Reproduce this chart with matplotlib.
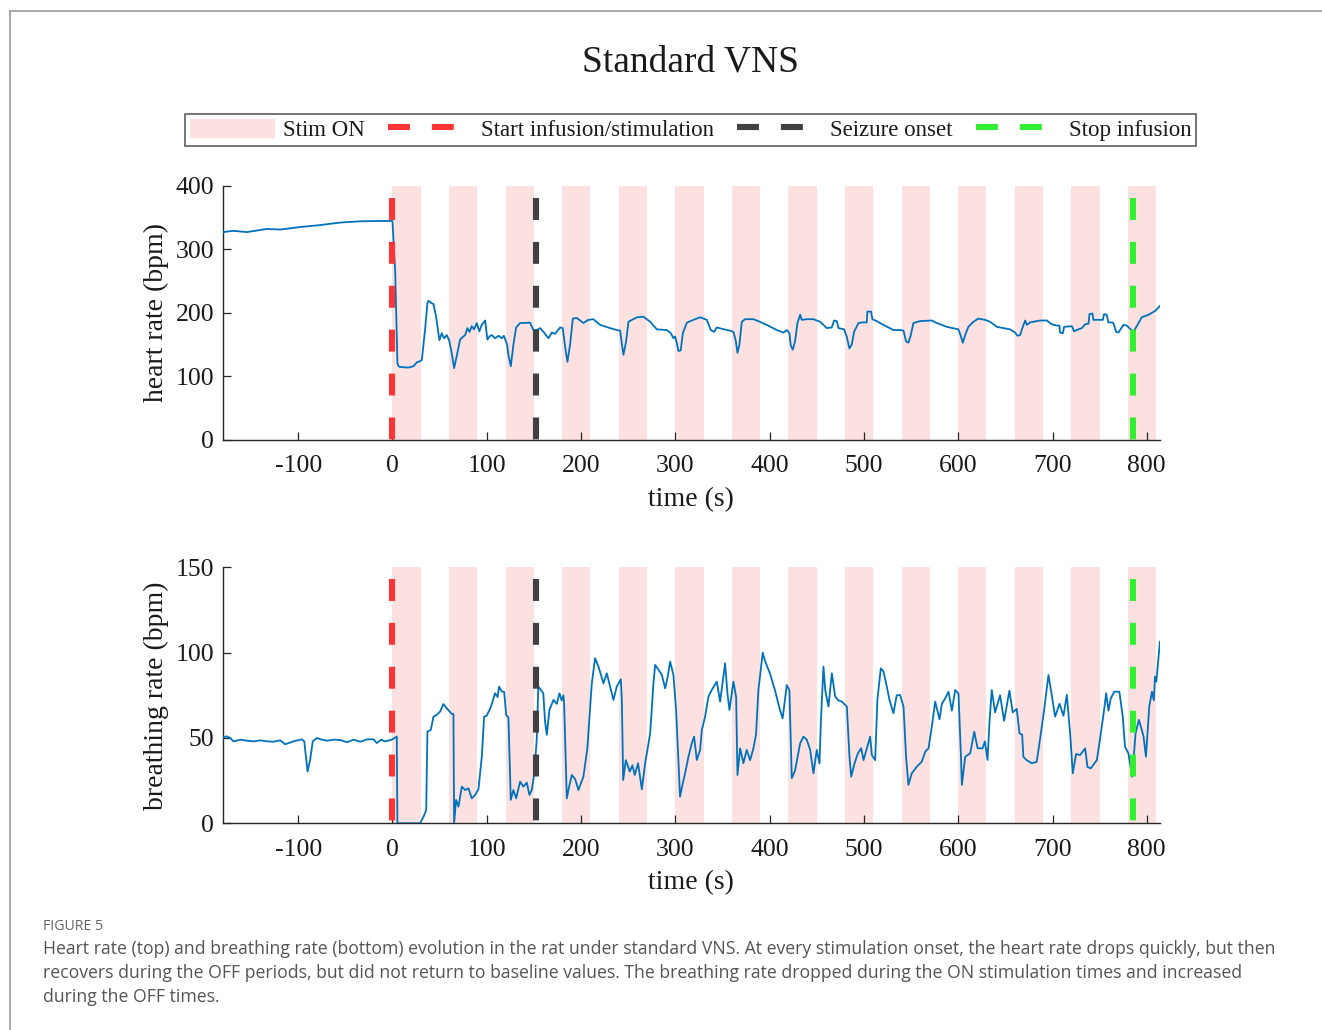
import numpy as np
import matplotlib
matplotlib.use("Agg")
import matplotlib.pyplot as plt
from matplotlib.patches import Patch
from matplotlib.lines import Line2D

# ---- data -------------------------------------------------------------
stim_on_starts = [0, 60, 120, 180, 240, 300, 360, 420, 480, 540, 600, 660, 720, 780]
stim_on_duration = 30
start_infusion = 0
seizure_onset = 152
stop_infusion = 785

hr_time = [-180, -168.6, -154.4, -133, -119, -98, -77, -55.5, -34, -13, 0,
           2.9, 5.3, 6.4, 8, 15.3, 17, 22.3, 25.8, 29.4, 31.2, 34.7, 37.1, 38.2, 41.7,
           43.5, 46.3, 49.8, 52.3, 54.8, 57.6, 60.1, 63, 65.4, 68.2, 71.8, 74.5, 77.1,
           79.5, 81.8, 84.1, 86.6, 89.4, 92.2, 94.7, 98.3, 100.7, 103, 105.4, 108.9,
           112.5, 116, 118.2, 121.6, 123, 125.5, 128.3, 131.2, 135.4, 146, 149.5, 153,
           156.6, 160.2, 165.5, 169, 172.5, 177.8, 180.6, 183.1, 185.6, 188.4, 191.3,
           195.5, 202.5, 207.8, 213.1, 220.3, 230.9, 237.9, 241.5, 243.2, 245, 247.8,
           250.3, 259.2, 266, 273.3, 280.4, 291, 295.2, 298, 299.8, 301.6, 303.3, 305.7,
           308, 312.2, 319.3, 326.3, 333.4, 337.6, 341.1, 344, 354.6, 358.1, 361.7,
           364.2, 365.9, 368, 370.5, 374, 382.8, 388, 397, 407.6, 414.7, 418.2, 421,
           422.4, 424.5, 427, 429.5, 432.4, 434.1, 439.4, 446.5, 453.5, 460.6, 465.9,
           468.4, 471.3, 473, 479, 481.9, 484.6, 487.1, 489.6, 494.2, 498.8, 503, 503.7,
           507.6, 509, 513.6, 520.7, 531.3, 538.4, 542, 544.7, 547.2, 549.7, 552.5,
           559.6, 572, 577.3, 587.9, 600.2, 602.7, 604.9, 607.4, 610.8, 616.1, 621.4,
           628.5, 633.8, 640.9, 655, 660.3, 662.8, 665.6, 668.5, 671, 672.8, 676.3,
           686.9, 693.9, 699.2, 704.5, 707.3, 708, 711, 712.3, 720.5, 722.9, 725.7,
           731.1, 734.6, 738.2, 739.2, 742.4, 743.4, 749.8, 753.4, 754.7, 757.5, 759.3,
           762.9, 764.6, 767.5, 769.9, 775.2, 778.7, 781.6, 785.8, 790, 794.7, 801.8,
           808.8, 814]
hr_bpm = [327, 329, 327, 332, 331, 335, 338, 342, 344, 344.5, 344.5,
          267, 121, 116, 115, 114, 114, 116, 122, 124, 126, 175, 215, 219, 215,
          214, 194, 157, 168, 160, 165, 157, 136, 113, 132, 158, 162, 165,
          176, 170, 179, 174, 184, 171, 181, 188, 158, 163, 165, 160,
          164, 160, 164, 150, 134, 116, 150, 177, 184, 184.5, 173, 173,
          176, 170, 160, 169, 167, 177, 176, 147, 123, 150, 191,
          192, 184, 189, 190, 181, 176, 173, 172, 152, 134, 155,
          186, 193, 194, 186, 174, 173, 168, 160, 163, 152, 140, 141,
          168, 184.5, 189, 193, 189, 173, 170, 177, 173, 172, 170,
          155, 137, 150, 186, 190, 190, 187, 181, 173, 169, 173, 168,
          149, 142, 155, 184, 197, 189, 190, 190, 186, 176, 177,
          188, 187, 176, 174, 162, 144, 150, 170, 184, 185, 185, 202,
          202, 190, 187, 181, 173, 173, 172, 155, 153, 165, 184,
          187, 188, 184, 178, 174, 164, 153, 165, 178, 186, 191,
          189, 186, 178, 174, 169, 164, 165, 178, 188, 181, 185,
          188, 188, 182, 180, 180, 169, 168, 178, 179, 171, 173,
          176, 182, 183, 198, 199, 189, 189, 189, 198, 197, 185,
          185, 184, 170, 169, 181, 180, 176, 170, 181, 193, 197,
          203, 211]

br_time = [-180, -176, -172, -168.6, -161, -154.4, -147, -140, -133, -126, -119,
           -113.8, -105, -96, -93.5, -90, -87.3, -84.5, -80, -75, -69.6, -62, -55.5,
           -48, -41.3, -34, -27, -20, -16.6, -12, -7.8, -0.7, 4.6, 5.3, 29.4, 33, 35.8,
           37.1, 40.7, 43.5, 47, 50.6, 54, 57.6, 62.9, 64.7, 65.4, 67.5, 70, 73.6, 77.1,
           80.6, 84.1, 87.7, 91.2, 94.8, 97.2, 100, 104.5, 108.9, 111.5, 113.1, 116,
           118.5, 120.6, 123, 125.5, 128.3, 131.2, 135.4, 138.9, 142.5, 145.3, 147.8,
           150.2, 153, 154.7, 160, 161.8, 163.7, 166.5, 170.8, 174.3, 177.1, 179.5,
           181.3, 182.1, 184.9, 186.8, 190.2, 193.7, 197.3, 202.5, 206.7, 211.4, 214.9,
           218.5, 223.8, 227.3, 230.9, 234.4, 237.9, 242.2, 243.3, 244.7, 247.5, 251.7,
           254.5, 257, 260.5, 264.5, 268, 269.8, 273.3, 276.8, 278.6, 282.2, 285.7,
           289.2, 291.6, 294.5, 298, 300.8, 302.2, 305, 307.9, 310.4, 313.9, 317.5,
           319.9, 322.8, 326.3, 328.1, 331.6, 335.1, 338.6, 344, 347.5, 352.8, 355.3,
           357.4, 361.6, 364.5, 365.9, 368.7, 372.2, 375.7, 379.3, 382.8, 385.6, 388.1,
           392.7, 395.2, 400.3, 405.6, 411, 413.8, 418.2, 421, 423.5, 427, 432.4, 435.9,
           439.4, 443, 446.5, 450, 452.9, 454.3, 457.1, 459, 462.4, 466, 469.5, 473,
           476.6, 481.9, 484.7, 486.5, 490, 493.6, 497.1, 499.6, 506.6, 508.4, 511.9,
           514.3, 517.9, 520.7, 523.6, 527.1, 531.3, 534.8, 538.4, 542, 544.7, 547.2,
           550.8, 556.1, 561.4, 565, 568.5, 572, 575.6, 580.2, 582.7, 586.2, 589.7,
           593.3, 596.8, 600.3, 602.8, 603.9, 607.4, 612.7, 617, 620.6, 625.8, 628.3,
           631.1, 633.2, 635.6, 639.1, 644.4, 648.7, 654.3, 657.8, 662.1, 665, 667.8,
           669.1, 672.6, 677.9, 683.2, 685.9, 691.1, 695.7, 699.2, 702.8, 707.4, 711.6,
           715.2, 718.7, 721.5, 725, 729.3, 734.6, 737.1, 740.6, 747, 750.5, 754.7,
           756.9, 759.4, 761.8, 765.4, 770.9, 774.5, 776.9, 780.5, 784.5, 788.1, 791.6,
           793.7, 796.5, 799.1, 802.6, 805.5, 807.5, 808.7, 810.1, 813.9]
br_bpm = [50, 51, 50, 48, 49, 48.4, 48, 48.6, 48, 47.8, 48.6,
          46.3, 48, 49.2, 48, 30.3, 37, 48, 50, 49, 48.4, 49, 48.8,
          47.5, 49, 47.8, 49.2, 49.2, 47, 49, 48, 49, 50.8, 0, 0, 3.9, 7.8,
          53.7, 54.7, 62.5, 63.5, 65.5, 69.9, 67.4, 64.1, 64, 0, 13.7, 9.8, 21.5, 19.5,
          20.5, 14.6, 16.6, 19.9, 39, 62.5, 63, 68.4, 76.2, 74, 80.1, 77.2,
          77, 63.5, 62, 13.7, 19.5, 14.6, 24.4, 21.5, 23.8, 16.6, 19.5,
          28.3, 48.8, 80.1, 76.2, 60, 51.8, 66.4, 72.3, 70, 76.2, 72,
          75, 70, 14.6, 20, 28.3, 26, 19.5, 27.3, 43.9, 82, 96.7,
          91.8, 82, 87.9, 80, 72.3, 80.1, 84.4, 72, 25.4, 37, 30.3,
          34, 28.3, 35.2, 19.9, 35.2, 41, 52.7, 82, 92.8, 90, 86.9,
          79.1, 85, 94.7, 86.9, 66.4, 50, 15.6, 23.4, 29.3, 39, 46.9,
          50.8, 37.1, 43, 54.7, 62.5, 74.2, 78.1, 83, 71.3, 93.8, 76,
          66.4, 83, 74, 28.3, 43.9, 35.2, 43, 37, 43.9, 52, 78.1,
          100, 95, 87.9, 78.1, 66.4, 61.5, 81, 78, 26.4, 31, 46.9, 50.8,
          49, 43, 29.3, 43, 35, 58.6, 91.8, 78, 68.4, 87.9, 74.2, 72,
          71.3, 68.4, 39, 27.3, 35, 41, 44, 37, 50.8, 40, 37,
          72.3, 90.8, 89, 82, 72.3, 64.5, 75, 75.2, 68.4, 39, 22.5,
          29.3, 33.2, 36.1, 42, 43.9, 56.6, 71.3, 61, 70, 73.2, 77.1,
          66, 78.1, 76, 41, 22.5, 39, 41, 53.7, 44, 43.9, 48,
          37.1, 59.6, 78.1, 65, 75, 60, 77.7, 65, 67, 52.7, 52,
          39, 37, 35.2, 36, 45.9, 66.4, 86.9, 75.2, 62.5, 70, 63,
          75.2, 52.7, 29.3, 40.6, 40, 43.9, 33, 32.2, 37, 49.8, 66.4,
          76.2, 66, 73.2, 77.1, 77.1, 62.5, 44.9, 41, 27.3, 52.7, 60.6,
          56.6, 51, 39, 68.4, 77.1, 72, 85.9, 83, 106.4]

x_ticks = [-100, 0, 100, 200, 300, 400, 500, 600, 700, 800]
hr_ticks = [0, 100, 200, 300, 400]
br_ticks = [0, 50, 100, 150]

# ---- style ------------------------------------------------------------
serif = ["Liberation Serif", "DejaVu Serif"]
plt.rcParams["font.family"] = serif
plt.rcParams["lines.scale_dashes"] = False
plt.rcParams["axes.unicode_minus"] = False

TRACE = "#0072BD"
BAND = "#FDE1E1"
RED = "#FF3535"
DARK = "#404040"
GREEN = "#33EE33"
AXIS = "#262626"
DASH = (15.8, 15.8)
DASH_LW = 4.4

W, H = 1322, 1030
fig = plt.figure(figsize=(W / 100, H / 100), dpi=100)


def px_rect(left, top, right, bottom):
    return [left / W, 1 - bottom / H, (right - left) / W, (bottom - top) / H]


ax_hr = fig.add_axes(px_rect(222.7, 185.7, 1160, 440))
ax_br = fig.add_axes(px_rect(222.7, 567.3, 1160, 823.3))


def decorate(ax, t, v, ylim, yticks, ylabel, vline_top):
    for s in stim_on_starts:
        ax.axvspan(s, s + stim_on_duration, color=BAND, lw=0, zorder=0)
    ax.plot(t, v, color=TRACE, lw=1.3, zorder=3)
    for xpos, col in ((start_infusion, RED), (seizure_onset, DARK), (stop_infusion, GREEN)):
        ax.plot([xpos, xpos], [vline_top, 0], color=col, lw=DASH_LW,
                dashes=DASH, solid_capstyle="butt", dash_capstyle="butt", zorder=4)
    ax.set_xlim(-180, 814)
    ax.set_ylim(*ylim)
    ax.set_xticks(x_ticks)
    ax.set_yticks(yticks)
    for side in ("top", "right"):
        ax.spines[side].set_visible(False)
    for side in ("left", "bottom"):
        ax.spines[side].set_color(AXIS)
        ax.spines[side].set_linewidth(1.0)
    ax.tick_params(direction="in", length=6, width=0.9, color=AXIS,
                   labelsize=18.5, labelcolor="#1a1a1a")
    ax.tick_params(axis="x", pad=11)
    ax.tick_params(axis="y", pad=6)
    ax.set_xlabel("time (s)", fontsize=20, color="#1a1a1a", labelpad=7)
    ax.set_ylabel(ylabel, fontsize=20, color="#1a1a1a", labelpad=5)


decorate(ax_hr, hr_time, hr_bpm, (0, 400), hr_ticks, "heart rate (bpm)", 381)
decorate(ax_br, br_time, br_bpm, (0, 150), br_ticks, "breathing rate (bpm)", 143)

fig.text(691 / W, 1 - 62 / H, "Standard VNS", ha="center", va="center",
         fontsize=27, color="#1a1a1a")

handles = [
    Patch(facecolor=BAND, edgecolor="none"),
    Line2D([], [], color=RED, lw=DASH_LW, dashes=DASH, dash_capstyle="butt"),
    Line2D([], [], color=DARK, lw=DASH_LW, dashes=DASH, dash_capstyle="butt"),
    Line2D([], [], color=GREEN, lw=DASH_LW, dashes=DASH, dash_capstyle="butt"),
]
labels = ["Stim ON", "Start infusion/stimulation", "Seizure onset", "Stop infusion"]
leg = fig.legend(handles, labels, loc="center", bbox_to_anchor=(690.5 / W, 1 - 130 / H),
                 ncol=4, fontsize=16.5, frameon=True, fancybox=False, shadow=False,
                 handlelength=3.7, handleheight=0.9, handletextpad=0.35,
                 columnspacing=1.02, borderpad=0.22, borderaxespad=0)
leg.get_frame().set_edgecolor(AXIS)
leg.get_frame().set_linewidth(1.1)
for txt in leg.get_texts():
    txt.set_color("#1a1a1a")

# card outline on the top and left edges
fig.add_artist(Line2D([10 / W, 1], [1 - 11 / H, 1 - 11 / H], color="#9a9a9a", lw=1.2))
fig.add_artist(Line2D([10 / W, 10 / W], [1 - 11 / H, 0], color="#9a9a9a", lw=1.2))

# caption
cap_font = ["Open Sans", "DejaVu Sans"]
fig.text(43 / W, 1 - 930 / H, "FIGURE 5", fontsize=10.2, color="#666666",
         family=cap_font, va="baseline", ha="left")
caption = [
    "Heart rate (top) and breathing rate (bottom) evolution in the rat under standard VNS. "
    "At every stimulation onset, the heart rate drops quickly, but then",
    "recovers during the OFF periods, but did not return to baseline values. The breathing "
    "rate dropped during the ON stimulation times and increased",
    "during the OFF times.",
]
for i, line in enumerate(caption):
    fig.text(43 / W, 1 - (954 + 24 * i) / H, line, fontsize=12.68, color="#555555",
             family=cap_font, va="baseline", ha="left")

fig.savefig("out.png", dpi=100, facecolor="white")
